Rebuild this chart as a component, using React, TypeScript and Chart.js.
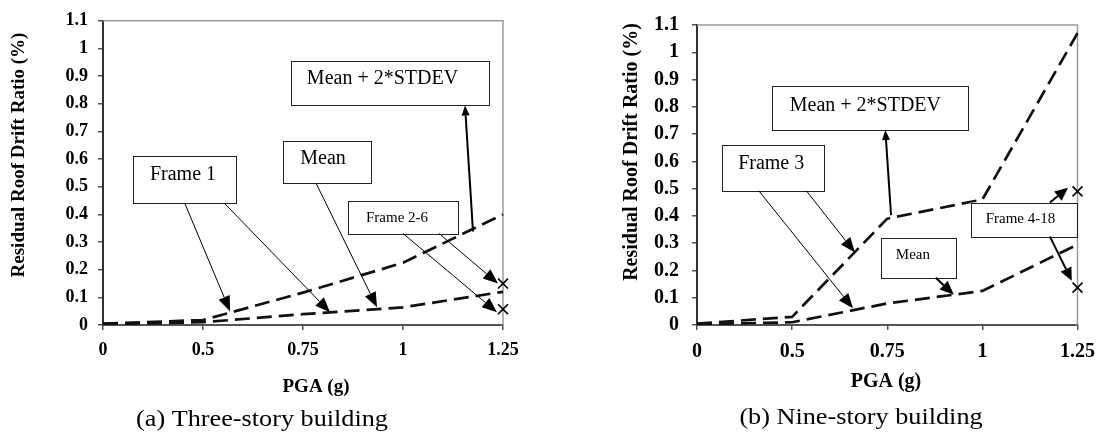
import React, { useEffect, useRef } from "react";
import { Chart, registerables } from "chart.js";

Chart.register(...registerables);

// ---------- data ----------
const xCategories = ["0", "0.5", "0.75", "1", "1.25"];
const yTickLabels = ["0", "0.1", "0.2", "0.3", "0.4", "0.5", "0.6", "0.7", "0.8", "0.9", "1", "1.1"];

const threeStoryMeanPlus2Sd = [0.005, 0.018, 0.117, 0.225, 0.4];
const threeStoryMean = [0.003, 0.01, 0.039, 0.064, 0.12];
const threeStoryFrame2to6 = [0.15, 0.057];

const nineStoryMeanPlus2Sd = [0.005, 0.03, 0.39, 0.46, 1.07];
const nineStoryMean = [0.003, 0.01, 0.079, 0.125, 0.295];
const nineStoryFrame4to18 = [0.49, 0.137];

const SERIF = '"Liberation Serif", "Times New Roman", Times, serif';
const H = 434;

type Box = { x1: number; x2: number; y1: number; y2: number; text: string; font: number; tx: number; ty: number };
type Arrow = { x1: number; y1: number; x2: number; y2: number; w: number; hl: number; hw: number };

type Panel = {
  left: number;
  width: number;
  plotLeft: number;
  plotRight: number;
  plotTop: number;
  plotBottom: number;
  tickFont: number;
  titleFont: number;
  xTitleFont: number;
  yTitle: [number, number];
  xTitle: [number, number];
  caption: string;
  captionPos: [number, number];
  meanPlus: number[];
  mean: number[];
  markerName: string;
  markers: number[];
  boxes: Box[];
  arrows: Arrow[];
};

const panels: Panel[] = [
  {
    left: 0,
    width: 552,
    plotLeft: 103,
    plotRight: 503,
    plotTop: 16,
    plotBottom: 325,
    tickFont: 18,
    titleFont: 19,
    xTitleFont: 19,
    yTitle: [19, 155],
    xTitle: [316, 387],
    caption: "(a) Three-story building",
    captionPos: [262, 426],
    meanPlus: threeStoryMeanPlus2Sd,
    mean: threeStoryMean,
    markerName: "Frame 2-6",
    markers: threeStoryFrame2to6,
    boxes: [
      { x1: 1.88, x2: 3.86, y1: 0.954, y2: 0.794, text: "Mean + 2*STDEV", font: 20, tx: 2.795, ty: 0.89 },
      { x1: 0.3, x2: 1.33, y1: 0.612, y2: 0.441, text: "Frame 1", font: 20, tx: 0.8, ty: 0.545 },
      { x1: 1.8, x2: 2.68, y1: 0.666, y2: 0.513, text: "Mean", font: 20, tx: 2.2, ty: 0.6 },
      { x1: 2.45, x2: 3.55, y1: 0.449, y2: 0.331, text: "Frame 2-6", font: 15, tx: 2.94, ty: 0.386 },
    ],
    arrows: [
      { x1: 0.82, y1: 0.438, x2: 1.27, y2: 0.05, w: 1, hl: 15, hw: 6 },
      { x1: 1.22, y1: 0.438, x2: 2.27, y2: 0.046, w: 1, hl: 15, hw: 6 },
      { x1: 2.13, y1: 0.513, x2: 2.74, y2: 0.064, w: 1, hl: 15, hw: 6 },
      { x1: 3.36, y1: 0.331, x2: 3.95, y2: 0.15, w: 1, hl: 15, hw: 6 },
      { x1: 3.0, y1: 0.331, x2: 3.94, y2: 0.046, w: 1, hl: 15, hw: 6 },
      { x1: 3.7, y1: 0.338, x2: 3.62, y2: 0.794, w: 2, hl: 10, hw: 4 },
    ],
  },
  {
    left: 552,
    width: 553,
    plotLeft: 145,
    plotRight: 531,
    plotTop: 19,
    plotBottom: 325,
    tickFont: 20,
    titleFont: 20,
    xTitleFont: 20,
    yTitle: [80, 152],
    xTitle: [334, 382],
    caption: "(b) Nine-story building",
    captionPos: [309, 424],
    meanPlus: nineStoryMeanPlus2Sd,
    mean: nineStoryMean,
    markerName: "Frame 4-18",
    markers: nineStoryFrame4to18,
    boxes: [
      { x1: 0.79, x2: 2.85, y1: 0.877, y2: 0.715, text: "Mean + 2*STDEV", font: 20, tx: 1.77, ty: 0.805 },
      { x1: 0.26, x2: 1.33, y1: 0.661, y2: 0.492, text: "Frame 3", font: 20, tx: 0.78, ty: 0.59 },
      { x1: 1.93, x2: 2.72, y1: 0.32, y2: 0.173, text: "Mean", font: 15, tx: 2.27, ty: 0.255 },
      { x1: 2.88, x2: 3.99, y1: 0.449, y2: 0.324, text: "Frame 4-18", font: 15, tx: 3.4, ty: 0.387 },
    ],
    arrows: [
      { x1: 0.65, y1: 0.492, x2: 1.64, y2: 0.061, w: 1, hl: 15, hw: 6 },
      { x1: 1.15, y1: 0.492, x2: 1.66, y2: 0.266, w: 1, hl: 15, hw: 6 },
      { x1: 2.04, y1: 0.403, x2: 1.98, y2: 0.715, w: 2, hl: 10, hw: 4 },
      { x1: 2.51, y1: 0.173, x2: 2.7, y2: 0.111, w: 2, hl: 14, hw: 6 },
      { x1: 3.71, y1: 0.449, x2: 3.9, y2: 0.503, w: 2, hl: 13, hw: 6 },
      { x1: 3.71, y1: 0.324, x2: 3.94, y2: 0.162, w: 2, hl: 13, hw: 6 },
    ],
  },
];

function drawText(
  ctx: CanvasRenderingContext2D,
  text: string,
  x: number,
  y: number,
  font: string,
  opts: { rotate?: boolean; scaleX?: number; baseline?: CanvasTextBaseline } = {}
) {
  ctx.save();
  ctx.translate(x, y);
  if (opts.rotate) ctx.rotate(-Math.PI / 2);
  ctx.scale(opts.scaleX ?? 1, 1);
  ctx.font = font;
  ctx.fillStyle = "#000";
  ctx.textAlign = "center";
  ctx.textBaseline = opts.baseline ?? "middle";
  ctx.fillText(text, 0, 0);
  ctx.restore();
}

function drawArrow(ctx: CanvasRenderingContext2D, x1: number, y1: number, x2: number, y2: number, a: Arrow) {
  const ang = Math.atan2(y2 - y1, x2 - x1);
  const c = Math.cos(ang);
  const s = Math.sin(ang);
  const bx = x2 - a.hl * c;
  const by = y2 - a.hl * s;
  ctx.save();
  ctx.strokeStyle = "#000";
  ctx.fillStyle = "#000";
  ctx.lineWidth = a.w;
  ctx.setLineDash([]);
  ctx.beginPath();
  ctx.moveTo(x1, y1);
  ctx.lineTo(bx, by);
  ctx.stroke();
  ctx.beginPath();
  ctx.moveTo(x2, y2);
  ctx.lineTo(bx + a.hw * s, by - a.hw * c);
  ctx.lineTo(bx - a.hw * s, by + a.hw * c);
  ctx.closePath();
  ctx.fill();
  ctx.restore();
}

function makePlugin(p: Panel) {
  return {
    id: "annotations",
    beforeDatasetsDraw(chart: any) {
      const { ctx, chartArea } = chart;
      ctx.save();
      ctx.strokeStyle = "#9a9a9a";
      ctx.lineWidth = 1.5;
      ctx.beginPath();
      ctx.moveTo(chartArea.left, chartArea.top);
      ctx.lineTo(chartArea.right, chartArea.top);
      ctx.lineTo(chartArea.right, chartArea.bottom);
      ctx.stroke();
      ctx.restore();
    },
    afterDatasetsDraw(chart: any) {
      const { ctx } = chart;
      const xs = chart.scales.x;
      const ys = chart.scales.y;
      const px = (v: number) => xs.getPixelForValue(v);
      const py = (v: number) => ys.getPixelForValue(v);
      for (const b of p.boxes) {
        const x1 = px(b.x1);
        const x2 = px(b.x2);
        const y1 = py(b.y1);
        const y2 = py(b.y2);
        ctx.save();
        ctx.fillStyle = "#fff";
        ctx.strokeStyle = "#222";
        ctx.lineWidth = 1;
        ctx.setLineDash([]);
        ctx.fillRect(x1, y1, x2 - x1, y2 - y1);
        ctx.strokeRect(Math.round(x1) + 0.5, Math.round(y1) + 0.5, Math.round(x2 - x1), Math.round(y2 - y1));
        ctx.restore();
        drawText(ctx, b.text, px(b.tx), py(b.ty), `${b.font}px ${SERIF}`);
      }
      for (const a of p.arrows) {
        drawArrow(ctx, px(a.x1), py(a.y1), px(a.x2), py(a.y2), a);
      }
    },
    afterDraw(chart: any) {
      const { ctx } = chart;
      drawText(ctx, "Residual Roof Drift Ratio (%)", p.yTitle[0], p.yTitle[1], `bold ${p.titleFont}px ${SERIF}`, {
        rotate: true,
      });
      drawText(ctx, "PGA (g)", p.xTitle[0], p.xTitle[1], `bold ${p.xTitleFont}px ${SERIF}`);
      drawText(ctx, p.caption, p.captionPos[0], p.captionPos[1], `23px ${SERIF}`, {
        scaleX: 1.14,
        baseline: "alphabetic",
      });
    },
  };
}

function makeConfig(p: Panel): any {
  const lastLabel = xCategories[xCategories.length - 1];
  return {
    type: "line",
    data: {
      labels: xCategories,
      datasets: [
        {
          label: "Mean + 2*STDEV",
          data: p.meanPlus,
          borderColor: "#111",
          borderWidth: 2.7,
          borderDash: [15, 7],
          pointRadius: 0,
          tension: 0,
          fill: false,
        },
        {
          label: "Mean",
          data: p.mean,
          borderColor: "#111",
          borderWidth: 2.7,
          borderDash: [15, 7],
          pointRadius: 0,
          tension: 0,
          fill: false,
        },
        {
          label: p.markerName,
          data: p.markers.map((v) => ({ x: lastLabel, y: v })),
          showLine: false,
          pointStyle: "crossRot",
          pointRadius: 7,
          pointBorderWidth: 1.6,
          borderColor: "#000",
          backgroundColor: "#000",
          clip: false,
        },
      ],
    },
    options: {
      responsive: false,
      animation: false,
      devicePixelRatio: 1,
      layout: {
        padding: { left: 0, top: p.plotTop, right: p.width - p.plotRight, bottom: 0 },
      },
      plugins: {
        legend: { display: false },
        tooltip: { enabled: false },
        title: { display: false },
      },
      scales: {
        x: {
          type: "category",
          offset: false,
          afterFit: (s: any) => {
            s.height = H - p.plotBottom;
          },
          grid: {
            display: true,
            drawOnChartArea: false,
            drawTicks: true,
            tickLength: 5,
            color: "#555",
            lineWidth: 1.5,
          },
          border: { display: true, color: "#555", width: 2 },
          ticks: {
            color: "#000",
            maxRotation: 0,
            autoSkip: false,
            padding: 10,
            font: { family: SERIF, size: p.tickFont, weight: "bold" },
          },
        },
        y: {
          type: "linear",
          min: 0,
          max: 1.1,
          afterFit: (s: any) => {
            s.width = p.plotLeft;
          },
          grid: {
            display: true,
            drawOnChartArea: false,
            drawTicks: true,
            tickLength: 5,
            color: "#555",
            lineWidth: 1.5,
          },
          border: { display: true, color: "#333", width: 2 },
          ticks: {
            stepSize: 0.1,
            color: "#000",
            padding: p.left === 0 ? 10 : 13,
            font: { family: SERIF, size: p.tickFont, weight: "bold" },
            callback: (_v: any, i: number) => yTickLabels[i],
          },
        },
      },
    },
    plugins: [makePlugin(p)],
  };
}

function Panel({ p }: { p: Panel }) {
  const ref = useRef<HTMLCanvasElement | null>(null);
  useEffect(() => {
    if (!ref.current) return;
    const chart = new Chart(ref.current, makeConfig(p));
    return () => chart.destroy();
  }, [p]);
  return (
    <canvas
      ref={ref}
      width={p.width}
      height={H}
      style={{ position: "absolute", left: p.left, top: 0, width: p.width, height: H }}
    />
  );
}

export default function App() {
  return (
    <div
      style={{
        position: "absolute",
        left: 0,
        top: 0,
        width: 1105,
        height: H,
        background: "#fff",
        overflow: "hidden",
      }}
    >
      {panels.map((p, i) => (
        <Panel key={i} p={p} />
      ))}
    </div>
  );
}
